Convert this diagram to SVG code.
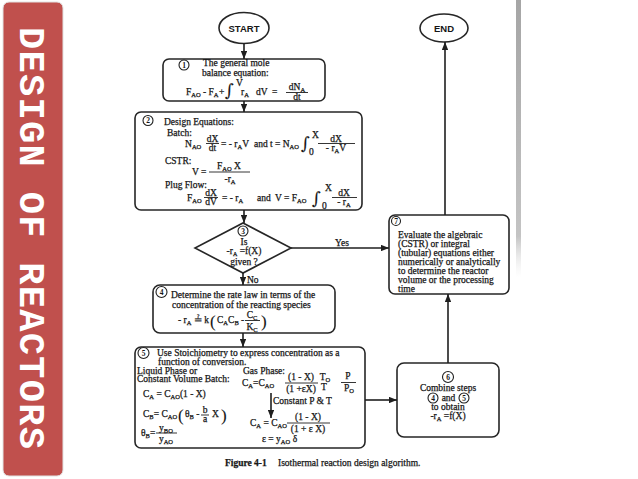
<svg xmlns="http://www.w3.org/2000/svg" width="638" height="479" viewBox="0 0 638 479">
<style>
.bx{fill:#fff;stroke:#262626;stroke-width:1.6}
.ar{stroke:#1f1f1f;stroke-width:1.6;fill:none;marker-end:url(#ah)}
.t{font-family:"Liberation Serif","Times New Roman",serif;fill:#161616;stroke:#161616;stroke-width:0.25;font-size:9.5px}
.m{text-anchor:middle}
.cn{fill:#fff;stroke:#1f1f1f;stroke-width:1.1}
.cnt{font-family:"Liberation Serif","Times New Roman",serif;font-size:7.5px;font-weight:bold;fill:#161616;text-anchor:middle}
.sb{font-size:6.5px}
.bar{stroke:#1f1f1f;stroke-width:0.9}
.big{font-size:17px;stroke-width:0.1}
.int{font-family:"DejaVu Serif",serif;font-size:17px;stroke-width:0.1}
.term{font-family:"Liberation Sans",Arial,sans-serif;font-size:9.5px;font-weight:bold;fill:#161616;text-anchor:middle}
</style>
<defs>
<marker id="ah" viewBox="0 0 10 8" refX="10" refY="4" markerWidth="8" markerHeight="6.4" markerUnits="userSpaceOnUse" orient="auto"><path d="M0,0 L10,4 L0,8 z" fill="#1f1f1f"/></marker>
<linearGradient id="sg" x1="0" y1="0" x2="0" y2="1"><stop offset="0" stop-color="#8f8f8f"/><stop offset="0.85" stop-color="#b5b5b5"/><stop offset="1" stop-color="#e5e5e5" stop-opacity="0"/></linearGradient>
</defs>

<g id="banner">
<rect x="3" y="2" width="60" height="474" rx="6" fill="#C0504D" stroke="#e2e2e2" stroke-width="1"/>
<text transform="translate(20,238) rotate(90)" font-family="'Liberation Mono','Courier New',monospace" font-weight="bold" font-size="37" fill="#fff" text-anchor="middle" textLength="422" lengthAdjust="spacing">DESIGN OF REACTORS</text>
</g>

<rect x="516" y="0" width="5" height="278" fill="url(#sg)" opacity="0.8"/>

<g id="start">
<ellipse cx="244" cy="28" rx="25" ry="15.5" class="bx"/>
<text x="244" y="31.5" class="term">START</text>
</g>

<g id="end">
<ellipse cx="444" cy="28" rx="24" ry="14" class="bx"/>
<text x="444" y="31.5" class="term">END</text>
</g>

<g id="step1">
<rect x="163" y="59" width="162" height="42" rx="6" class="bx"/>
<circle cx="184" cy="65" r="5" class="cn"/><text x="184" y="67.7" class="cnt">1</text>
<text x="203" y="66" class="t" font-size="8.8">The general mole</text>
<text x="202" y="75.5" class="t" font-size="8.8">balance equation:</text>
<text x="186" y="94.5" class="t">F<tspan class="sb" dy="2">AO</tspan></text>
<text x="203" y="94.5" class="t">- F<tspan class="sb" dy="2">A</tspan></text>
<text x="219" y="94.5" class="t">+</text>
<text x="225" y="96" class="t int">∫</text>
<text x="236" y="85.5" class="t" font-size="6.5">V</text>
<text x="241" y="94.5" class="t">r<tspan class="sb" dy="2">A</tspan></text>
<text x="256" y="94.5" class="t">dV</text>
<text x="272" y="94.5" class="t">=</text>
<text x="297" y="90" class="t m">dN<tspan class="sb" dy="2">A</tspan></text>
<line x1="286" y1="92.5" x2="308" y2="92.5" class="bar"/>
<text x="297" y="99.5" class="t m">dt</text>
</g>

<g id="step2">
<rect x="135" y="112" width="227" height="98" rx="6" class="bx"/>
<circle cx="148" cy="120.5" r="5" class="cn"/><text x="148" y="123.2" class="cnt">2</text>
<text x="164" y="125" class="t">Design Equations:</text>
<text x="167" y="136" class="t">Batch:</text>
<text x="185" y="146.5" class="t">N<tspan class="sb" dy="2">AO</tspan></text>
<text x="212.5" y="141.5" class="t m">dX</text>
<line x1="206" y1="143.5" x2="219" y2="143.5" class="bar"/>
<text x="212.5" y="151" class="t m">dt</text>
<text x="221" y="146.5" class="t">= - r<tspan class="sb" dy="2">A</tspan><tspan dy="-2">V</tspan></text>
<text x="254" y="146.5" class="t">and</text>
<text x="270" y="146.5" class="t">t = N<tspan class="sb" dy="2">AO</tspan></text>
<text x="301" y="149" class="t int">∫</text>
<text x="312" y="138" class="t" font-size="6.5">X</text>
<text x="309" y="155" class="t" font-size="6.5">0</text>
<text x="336" y="141.5" class="t m">dX</text>
<line x1="318" y1="143.5" x2="355" y2="143.5" class="bar"/>
<text x="336" y="151" class="t m">- r<tspan class="sb" dy="2">A</tspan><tspan dy="-2">V</tspan></text>
<text x="165" y="164" class="t">CSTR:</text>
<text x="192" y="175" class="t">V =</text>
<text x="229" y="169" class="t m">F<tspan class="sb" dy="2">AO</tspan><tspan dy="-2"> X</tspan></text>
<line x1="209" y1="172" x2="250" y2="172" class="bar"/>
<text x="230" y="182" class="t m">-r<tspan class="sb" dy="2">A</tspan></text>
<text x="165" y="188" class="t">Plug Flow:</text>
<text x="187" y="201" class="t">F<tspan class="sb" dy="2">AO</tspan></text>
<text x="211" y="195.5" class="t m">dX</text>
<line x1="204" y1="197.5" x2="218" y2="197.5" class="bar"/>
<text x="211" y="205" class="t m">dV</text>
<text x="222" y="201" class="t">= - r<tspan class="sb" dy="2">A</tspan></text>
<text x="257" y="201" class="t">and</text>
<text x="275" y="201" class="t">V = F<tspan class="sb" dy="2">AO</tspan></text>
<text x="312" y="204" class="t int">∫</text>
<text x="325" y="191" class="t" font-size="6.5">X</text>
<text x="322" y="208.5" class="t" font-size="6.5">0</text>
<text x="344" y="195.5" class="t m">dX</text>
<line x1="332" y1="197.5" x2="357" y2="197.5" class="bar"/>
<text x="344" y="205" class="t m">- r<tspan class="sb" dy="2">A</tspan></text>
</g>

<g id="step3">
<polygon points="243,223 291,248 243,273 195,248" class="bx"/>
<circle cx="243" cy="231" r="5" class="cn"/><text x="243" y="233.7" class="cnt">3</text>
<text x="244" y="244.5" class="t m" font-size="8.5">Is</text>
<text x="244" y="254" class="t m" font-size="8.5">-r<tspan font-size="6" dy="1.5">A</tspan><tspan dy="-1.5"> =f(X)</tspan></text>
<text x="244" y="265" class="t m" font-size="8.5">given ?</text>
</g>

<g id="step4">
<rect x="153" y="285" width="182" height="48" rx="7" class="bx"/>
<circle cx="161.5" cy="292" r="5.5" class="cn"/><text x="161.5" y="294.7" class="cnt">4</text>
<text x="171" y="298" class="t">Determine the rate law in terms of the</text>
<text x="172" y="307.5" class="t">concentration of the reacting species</text>
<text x="178" y="323" class="t">- r<tspan class="sb" dy="2">A</tspan><tspan dy="-2"> ≟ k</tspan></text>
<text x="210" y="326.5" class="t big">(</text>
<text x="217" y="323" class="t">C<tspan class="sb" dy="2">A</tspan><tspan dy="-2">C</tspan><tspan class="sb" dy="2">B</tspan><tspan dy="-2"> -</tspan></text>
<text x="252" y="318" class="t m">C<tspan class="sb" dy="2">C</tspan></text>
<line x1="245" y1="320.5" x2="260" y2="320.5" class="bar"/>
<text x="252" y="330" class="t m">K<tspan class="sb" dy="2">C</tspan></text>
<text x="261" y="326.5" class="t big">)</text>
</g>

<g id="step5">
<rect x="135" y="347" width="230" height="101" rx="6" class="bx"/>
<circle cx="143.5" cy="353" r="5.5" class="cn"/><text x="143.5" y="355.7" class="cnt">5</text>
<text x="157" y="356" class="t">Use Stoichiometry to express concentration as a</text>
<text x="158" y="364.5" class="t" font-size="9.2">function of conversion.</text>
<text x="137" y="373.5" class="t" font-size="9.2">Liquid Phase or</text>
<text x="137" y="382" class="t">Constant Volume Batch:</text>
<text x="143" y="397" class="t">C<tspan class="sb" dy="2">A</tspan><tspan dy="-2"> = C</tspan><tspan class="sb" dy="2">AO</tspan><tspan dy="-2">(1 - X)</tspan></text>
<text x="143" y="417" class="t">C<tspan class="sb" dy="2">B</tspan><tspan dy="-2">= C</tspan><tspan class="sb" dy="2">AO</tspan></text>
<text x="178" y="420.5" class="t big">(</text>
<text x="185" y="417" class="t">θ<tspan class="sb" dy="2">B</tspan><tspan dy="-2"> -</tspan></text>
<text x="205" y="413" class="t m" font-size="8">b</text>
<line x1="201" y1="415" x2="209" y2="415" class="bar"/>
<text x="205" y="422" class="t m" font-size="8">a</text>
<text x="212" y="417" class="t">X</text>
<text x="221" y="420.5" class="t big">)</text>
<text x="141" y="436" class="t">θ<tspan class="sb" dy="2">B</tspan><tspan dy="-2">=</tspan></text>
<text x="166" y="431" class="t m">y<tspan class="sb" dy="2">BO</tspan></text>
<line x1="156" y1="433" x2="177" y2="433" class="bar"/>
<text x="166" y="442" class="t m">y<tspan class="sb" dy="2">AO</tspan></text>
<text x="243" y="373.5" class="t">Gas Phase:</text>
<text x="242" y="386" class="t">C<tspan class="sb" dy="2">A</tspan><tspan dy="-2">=C</tspan><tspan class="sb" dy="2">AO</tspan></text>
<text x="301" y="380" class="t m">(1 - X)</text>
<line x1="285" y1="383" x2="318" y2="383" class="bar"/>
<text x="301" y="392" class="t m">(1 +εX)</text>
<text x="325" y="380" class="t m">T<tspan class="sb" dy="2">O</tspan></text>
<text x="324" y="390" class="t m">T</text>
<text x="348" y="379" class="t m">P</text>
<line x1="341" y1="382.5" x2="356" y2="382.5" class="bar"/>
<text x="349" y="391" class="t m">P<tspan class="sb" dy="2">O</tspan></text>
<line x1="271" y1="393" x2="271" y2="418" class="ar"/>
<text x="273" y="404" class="t">Constant P &amp; T</text>
<text x="250" y="426" class="t">C<tspan class="sb" dy="2">A</tspan><tspan dy="-2"> = C</tspan><tspan class="sb" dy="2">AO</tspan></text>
<text x="308" y="420" class="t m">(1 - X)</text>
<line x1="287" y1="423" x2="330" y2="423" class="bar"/>
<text x="308" y="432" class="t m">(1 + ε X)</text>
<text x="262" y="442" class="t">ε = y<tspan class="sb" dy="2">AO</tspan><tspan dy="-2"> δ</tspan></text>
</g>

<g id="step6">
<rect x="397" y="363" width="102" height="74" rx="7" class="bx"/>
<circle cx="448" cy="377" r="5.5" class="cn"/><text x="448" y="379.7" class="cnt">6</text>
<text x="448" y="391" class="t m" font-size="9">Combine steps</text>
<circle cx="433" cy="398" r="5" class="cn"/><text x="433" y="400.7" class="cnt">4</text>
<text x="448.5" y="401" class="t m" font-size="9">and</text>
<circle cx="464" cy="398" r="5" class="cn"/><text x="464" y="400.7" class="cnt">5</text>
<text x="448" y="410" class="t m" font-size="9">to obtain</text>
<text x="448" y="419" class="t m" font-size="9">-r<tspan class="sb" dy="2">A</tspan><tspan dy="-2"> =f(X)</tspan></text>
</g>

<g id="step7">
<rect x="389" y="215" width="120" height="79" rx="6" class="bx"/>
<circle cx="396" cy="221" r="4.5" class="cn"/><text x="396" y="223.7" class="cnt">7</text>
<text x="398" y="237.5" class="t" font-size="10">Evaluate the algebraic</text>
<text x="398" y="246.5" class="t" font-size="10">(CSTR) or integral</text>
<text x="398" y="255.5" class="t" font-size="10">(tubular) equations either</text>
<text x="398" y="264.5" class="t" font-size="10">numerically or analytically</text>
<text x="398" y="273.5" class="t" font-size="10">to determine the reactor</text>
<text x="398" y="282.5" class="t" font-size="10">volume or the processing</text>
<text x="398" y="291.5" class="t" font-size="10">time</text>
</g>

<g id="connectors">
<line x1="244" y1="43.5" x2="244" y2="59" class="ar"/>
<line x1="244" y1="101" x2="244" y2="112" class="ar"/>
<line x1="244" y1="210" x2="244" y2="223" class="ar"/>
<line x1="291" y1="248" x2="389" y2="248" class="ar"/>
<line x1="243" y1="273" x2="243" y2="285" class="ar"/>
<line x1="243" y1="333" x2="243" y2="347" class="ar"/>
<line x1="365" y1="400" x2="397" y2="400" class="ar"/>
<line x1="448" y1="363" x2="448" y2="294" class="ar"/>
<line x1="445" y1="215" x2="445" y2="42" class="ar"/>
<text x="342" y="245.5" class="t m">Yes</text>
<text x="247" y="283" class="t">No</text>
</g>

<text x="225" y="466" class="t" font-weight="bold">Figure 4-1</text>
<text x="278" y="466" class="t">Isothermal reaction design algorithm.</text>
</svg>
